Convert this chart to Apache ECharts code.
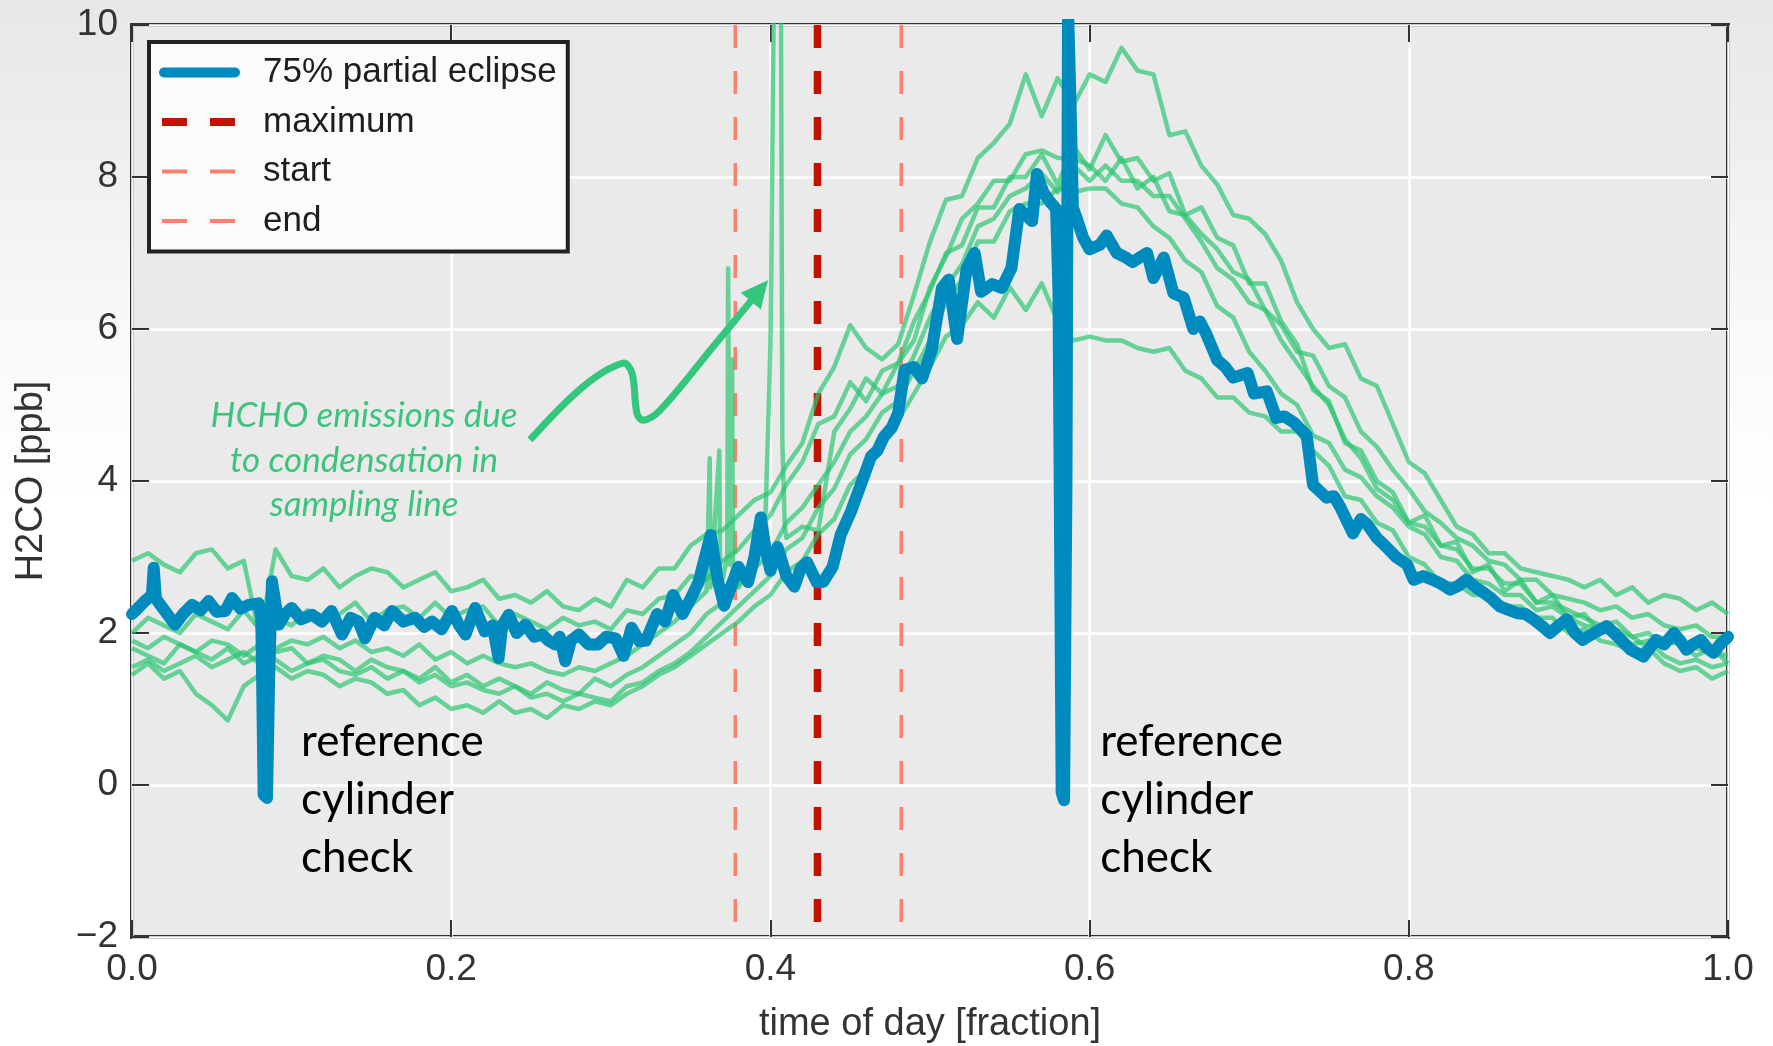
<!DOCTYPE html>
<html><head><meta charset="utf-8">
<script src="https://cdn.jsdelivr.net/npm/echarts@6/dist/echarts.min.js"></script>
<style>
html,body{margin:0;padding:0;width:1773px;height:1046px;overflow:hidden;
background:linear-gradient(to bottom,#e7e7e7 0%,#efefef 15%,#f9f9f9 32%,#ffffff 48%);}
#c{width:1773px;height:1046px;}
</style></head><body><div id="c"></div>
<script>
// ---- sampling times of the comparison days (fraction of day)
const T = [0,0.01,0.02,0.03,0.04,0.05,0.06,0.07,0.08,0.09,0.10,0.11,0.12,0.13,0.14,0.15,0.16,0.17,0.18,0.19,0.20,0.21,0.22,0.23,0.24,0.25,0.26,0.27,0.28,0.29,0.30,0.31,0.32,0.33,0.34,0.35,0.36,0.37,0.38,0.39,0.40,0.41,0.42,0.43,0.44,0.45,0.46,0.47,0.48,0.49,0.50,0.51,0.52,0.53,0.54,0.55,0.56,0.57,0.58,0.59,0.60,0.61,0.62,0.63,0.64,0.65,0.66,0.67,0.68,0.69,0.70,0.71,0.72,0.73,0.74,0.75,0.76,0.77,0.78,0.79,0.80,0.81,0.82,0.83,0.84,0.85,0.86,0.87,0.88,0.89,0.90,0.91,0.92,0.93,0.94,0.95,0.96,0.97,0.98,0.99,1.00];

// ---- comparison days (green)
const day1 = [2.95,3.05,2.9,2.8,3.05,3.1,2.85,2.95,1.95,3.1, 2.75,2.7,2.85,2.6,2.75,2.85,2.8,2.6,2.7,2.8, 2.55,2.6,2.7,2.45,2.5,2.4,2.55,2.35,2.3,2.45, 2.35,2.7,2.6,2.85,2.85,3.15,3.3,3.35,3.55,3.75, 3.85,4.2,4.5,5.15,5.5,6.05,5.75,5.6,5.8,6.45, 7.15,7.7,7.75,8.25,8.45,8.7,9.35,8.8,9.3,8.95, 9.35,9.25,9.7,9.4,9.35,8.55,8.6,8.15,7.9,7.5, 7.45,7.25,6.9,6.35,6.0,5.75,5.8,5.35,5.25,4.75, 4.25,4.1,3.75,3.4,3.3,3.05,3.05,2.85,2.8,2.75, 2.7,2.6,2.7,2.5,2.6,2.4,2.5,2.45,2.3,2.4,2.25];
const day2 = [2.0,2.2,2.1,2.0,2.25,2.15,2.05,2.3,2.05,2.2, 2.1,2.3,2.2,2.25,2.4,2.15,2.3,2.35,2.2,2.4, 2.2,2.3,2.35,2.1,2.25,2.15,2.05,2.2,2.1,2.15, 2.05,2.3,2.25,2.45,2.5,2.75,2.7,2.95,3.1,3.35, 3.55,3.95,4.25,4.75,4.85,5.3,5.05,5.45,5.55,6.1, 6.5,7.0,7.1,7.6,7.6,8.0,8.0,8.3,7.9,8.4, 8.1,8.55,8.2,8.25,7.95,8.05,7.5,7.6,7.2,7.1, 6.6,6.6,6.1,5.8,5.2,5.05,4.5,4.4,4.0,3.85, 3.45,3.55,3.15,3.2,2.8,2.9,2.55,2.7,2.4,2.5, 2.2,2.25,2.0,2.05,1.95,1.8,1.9,1.85,1.7,1.8,1.6];
const day3 = [1.8,1.7,1.6,1.85,1.75,1.65,1.8,1.6,1.7,1.75, 1.8,1.6,1.7,1.65,1.5,1.65,1.55,1.5,1.4,1.55, 1.35,1.45,1.3,1.4,1.3,1.2,1.35,1.25,1.2,1.4, 1.3,1.45,1.55,1.7,1.85,2.0,2.25,2.4,2.65,2.85, 3.05,3.45,3.65,3.95,4.25,4.65,4.85,5.15,5.25,5.65, 6.15,6.55,6.85,7.35,7.45,7.75,7.85,8.05,7.8,8.15, 7.95,8.15,7.95,7.95,7.75,7.75,7.45,7.15,6.8,6.65, 6.35,6.25,5.85,5.55,5.25,5.0,4.55,4.3,3.9,3.75, 3.45,3.4,3.15,3.1,2.85,2.85,2.65,2.65,2.4,2.4, 2.3,2.2,2.1,2.15,1.95,2.0,1.85,1.9,1.8,1.75,1.7];
const day4 = [1.55,1.65,1.5,1.6,1.7,1.55,1.65,1.75,1.6,1.65, 1.5,1.6,1.65,1.5,1.45,1.55,1.4,1.5,1.35,1.45, 1.3,1.35,1.25,1.2,1.3,1.15,1.2,1.1,1.2,1.15, 1.1,1.3,1.35,1.5,1.6,1.75,1.95,2.15,2.35,2.55, 2.75,3.1,3.25,3.65,3.9,4.35,4.55,4.9,5.05,5.45, 5.85,6.35,6.65,7.15,7.15,7.55,7.65,7.65,7.85,7.8, 7.85,7.85,7.65,7.6,7.35,7.2,6.9,6.75,6.3,6.15, 5.7,5.45,5.15,5.0,4.6,4.5,4.15,4.05,3.8,3.65, 3.4,3.3,3.0,2.95,2.7,2.65,2.5,2.5,2.3,2.35, 2.2,2.1,2.05,1.95,1.85,1.9,1.7,1.6,1.65,1.55,1.6];
const day5 = [1.45,1.6,1.4,1.5,1.2,1.05,0.85,1.3,1.45,1.55, 1.4,1.5,1.45,1.3,1.4,1.35,1.2,1.25,1.05,1.15, 1.0,1.05,0.95,1.1,0.95,1.0,0.88,1.05,1.0,1.1, 1.05,1.2,1.3,1.45,1.55,1.7,1.85,2.0,2.15,2.35, 2.5,2.8,2.95,3.3,3.5,3.95,4.15,4.55,4.8,5.15, 5.5,5.9,6.05,6.35,6.15,6.55,6.25,6.6,6.1,5.85, 5.9,5.85,5.85,5.75,5.7,5.75,5.45,5.35,5.1,5.1, 4.9,4.85,4.65,4.65,4.4,4.2,3.8,3.75,3.45,3.35, 3.0,2.9,2.65,2.65,2.5,2.5,2.35,2.35,2.2,2.2, 2.0,2.05,1.9,1.85,1.75,1.8,1.6,1.5,1.55,1.4,1.5];
const day6 = [1.9,1.8,1.95,1.85,1.75,1.9,1.85,1.7,1.85,1.8, 1.9,1.85,1.95,1.8,1.9,1.75,1.8,1.7,1.85,1.65, 1.75,1.6,1.7,1.6,1.55,1.6,1.5,1.45,1.55,1.5, 1.6,1.7,1.85,2.0,2.15,2.35,2.55,2.7,2.6,2.9, 5.8,3.25,3.4,3.35,4.65,4.95,5.35,5.15,5.55,5.85, 6.55,6.95,7.45,7.65,7.95,7.95,8.3,8.35,8.25,8.25, 8.15,7.95,8.25,7.85,8.0,7.55,7.5,7.25,7.05,6.75, 6.65,6.25,6.05,5.7,5.65,5.25,5.1,4.65,4.45,4.15, 3.9,3.6,3.45,3.25,3.15,2.95,2.9,2.7,2.7,2.5, 2.45,2.4,2.3,2.35,2.2,2.25,2.1,2.05,2.1,1.95,1.95];
// condensation spikes in day 6 (extra samples)
const day6SpikeT = [0.362,0.3625,0.368,0.3685,0.373,0.3735,0.3745,0.376,0.3765,0.397,0.399,0.4005,0.4015,0.4025,0.4065,0.4075,0.409];
const day6SpikeV = [4.3,2.6,4.4,2.75,3.0,6.8,2.9,5.6,2.8,3.6,5.0,6.6,9.0,11,11,4.5,3.4];

// ---- 75% partial eclipse day (blue)
const blueT = [0.000,0.002,0.008,0.0125,0.0136,0.015,0.0178,0.022,0.027,0.032,0.0376,0.043,0.048,0.053,0.0585,0.0627,0.068,0.073,0.0794,0.081,0.0825,0.0846,0.086,0.0877,0.092,0.096,0.100,0.106,0.1128,0.119,0.125,0.1316,0.137,0.142,0.146,0.152,0.158,0.163,0.170,0.1775,0.183,0.188,0.194,0.2005,0.205,0.209,0.215,0.221,0.226,0.2297,0.232,0.236,0.241,0.2464,0.252,0.257,0.261,0.265,0.268,0.2715,0.275,0.280,0.286,0.292,0.297,0.303,0.308,0.313,0.318,0.322,0.329,0.334,0.339,0.345,0.350,0.355,0.3626,0.367,0.371,0.376,0.380,0.386,0.390,0.394,0.397,0.400,0.4044,0.410,0.415,0.419,0.423,0.429,0.433,0.439,0.444,0.4505,0.4568,0.463,0.467,0.471,0.476,0.480,0.484,0.490,0.495,0.501,0.5075,0.5117,0.517,0.523,0.528,0.532,0.539,0.545,0.551,0.556,0.560,0.564,0.567,0.571,0.575,0.579,0.5805,0.5825,0.584,0.5855,0.5865,0.588,0.5895,0.592,0.596,0.600,0.6065,0.6107,0.617,0.622,0.627,0.632,0.636,0.640,0.6465,0.6525,0.659,0.665,0.669,0.673,0.680,0.685,0.690,0.699,0.703,0.711,0.717,0.722,0.728,0.736,0.740,0.7485,0.753,0.757,0.765,0.770,0.774,0.780,0.786,0.792,0.799,0.803,0.809,0.815,0.820,0.826,0.831,0.836,0.842,0.847,0.852,0.857,0.863,0.868,0.873,0.878,0.883,0.8885,0.894,0.899,0.904,0.909,0.916,0.924,0.931,0.939,0.947,0.951,0.955,0.960,0.966,0.970,0.974,0.978,0.983,0.987,0.991,0.995,1.000];
const blueV = [2.25,2.29,2.42,2.5,2.86,2.45,2.37,2.25,2.11,2.25,2.37,2.3,2.42,2.28,2.29,2.46,2.32,2.37,2.39,2.2,-0.13,-0.17,1.5,2.68,2.11,2.25,2.33,2.18,2.24,2.15,2.29,1.98,2.2,2.15,1.93,2.2,2.1,2.29,2.15,2.2,2.08,2.15,2.05,2.29,2.1,1.98,2.33,2.02,2.1,1.67,2.1,2.24,2.0,2.11,1.95,1.98,1.9,1.85,1.95,1.63,1.9,1.98,1.85,1.85,1.95,1.93,1.7,2.07,1.89,1.9,2.25,2.15,2.5,2.25,2.45,2.67,3.29,2.7,2.36,2.65,2.87,2.67,3.0,3.52,3.1,2.82,3.13,2.75,2.61,2.85,2.93,2.67,2.67,2.87,3.29,3.6,3.96,4.32,4.4,4.58,4.7,4.89,5.46,5.5,5.35,5.72,6.54,6.65,5.87,6.8,7.0,6.49,6.59,6.54,6.8,7.58,7.5,7.42,8.04,7.8,7.68,7.58,6.5,-0.1,-0.2,4.0,10.2,9.0,7.6,7.45,7.2,7.05,7.11,7.23,7.0,6.95,6.88,6.95,7.0,6.67,6.94,6.47,6.41,6.0,6.1,5.94,5.59,5.5,5.36,5.42,5.15,5.18,4.83,4.85,4.77,4.6,3.95,3.78,3.8,3.66,3.31,3.5,3.43,3.25,3.13,3.0,2.9,2.7,2.75,2.7,2.65,2.57,2.62,2.7,2.6,2.53,2.45,2.35,2.3,2.26,2.25,2.18,2.1,2.0,2.1,2.18,2.0,1.91,2.0,2.09,1.95,1.78,1.69,1.8,1.91,1.85,2.0,1.9,1.78,1.85,1.91,1.8,1.74,1.85,1.95];

// ---- eclipse timing
const eclipseStart = 0.378, eclipseMax = 0.4295, eclipseEnd = 0.482;
const yLimits = [-2, 10];

// ---- annotation anchors (data coordinates)
const noteHCHO = {x: 0.1454, y: 4.27, text: 'HCHO emissions due\nto condensation in\nsampling line'};
const noteCyl = [{x: 0.1059, y: -0.2}, {x: 0.6066, y: -0.2}];
const noteCylText = 'reference\ncylinder\ncheck';
const arrowPath = [[0.2494,4.54],[0.2826,5.24],[0.3076,5.55],[0.3133,5.42],[0.3164,4.89],[0.3202,4.80],[0.3308,4.93],[0.365,5.79],[0.3985,6.64]];

const zip = (t, v) => t.map((x, i) => [x, v[i]]);
const GREEN = 'rgba(40,198,112,0.68)';
const BLUE = '#008bbf';
const DARKRED = '#c01400';
const SALMON = '#fa8070';
const FONT = 'Liberation Sans';

const greenDays = [day1, day2, day3, day4, day5];
const series = [];
function vline(name, x, color, width) {
  series.push({
    name, type: 'line', data: [[x, yLimits[1]], [x, yLimits[0]]], symbol: 'none', silent: true, z: 1,
    itemStyle: {color}, lineStyle: {color, width, type: [23, 23], cap: 'butt'}
  });
}
vline('start', eclipseStart, SALMON, 3.5);
vline('end', eclipseEnd, SALMON, 3.5);
vline('maximum', eclipseMax, DARKRED, 7.5);
greenDays.forEach((d, i) => series.push({
  name: 'day' + (i + 1), type: 'line', data: zip(T, d), symbol: 'none', z: 2, silent: true,
  itemStyle: {color: GREEN}, lineStyle: {color: GREEN, width: 4.5, join: 'round'}
}));
series.push({
  name: 'day6', type: 'line', symbol: 'none', z: 2, silent: true,
  data: zip(T, day6).concat(zip(day6SpikeT, day6SpikeV)).sort((a, b) => a[0] - b[0]),
  itemStyle: {color: GREEN}, lineStyle: {color: GREEN, width: 4.5, join: 'round'}
});
series.push({
  name: '75% partial eclipse', type: 'line', data: zip(blueT, blueV), symbol: 'none', z: 3, silent: true,
  itemStyle: {color: BLUE}, lineStyle: {color: BLUE, width: 12, join: 'round', cap: 'round'}
});

const iconBlue = 'path://M0,0L0,0M99,10L99,10M5,0H76A5,5,0,0,1,76,10H5A5,5,0,0,1,5,0Z';
const iconMax = 'path://M0,0L0,0M99,10L99,10M3,1H28V9H3ZM51,1H76V9H51Z';
const iconThin = 'path://M0,0L0,0M99,10L99,10M3,3H28V7H3ZM51,3H76V7H51Z';

const tickStyle = {show: true, inside: true, length: 17, lineStyle: {color: '#333', width: 2}};
const labelStyle = {fontFamily: FONT, fontSize: 37, color: '#333'};
const noLine = {show: false, onZero: false};

const chart = echarts.init(document.getElementById('c'), null, {renderer: 'canvas'});
chart.setOption({
  animation: false,
  backgroundColor: 'transparent',
  grid: {left: 132, right: 45, top: 25, bottom: 109, show: true, backgroundColor: '#eaeaea',
         borderColor: '#333', borderWidth: 4, containLabel: false, outerBoundsMode: 'none'},
  legend: {
    orient: 'vertical', left: 149, top: 42, padding: [13, 11, 13, 10], itemGap: 14.5,
    itemWidth: 99, itemHeight: 10, symbolKeepAspect: false, selectedMode: false,
    backgroundColor: '#fbfbfb', borderColor: '#222', borderWidth: 4,
    itemStyle: {borderWidth: 0},
    textStyle: {fontFamily: FONT, fontSize: 35, color: '#1e1e1e'},
    data: [{name: '75% partial eclipse', icon: iconBlue}, {name: 'maximum', icon: iconMax},
           {name: 'start', icon: iconThin}, {name: 'end', icon: iconThin}]
  },
  xAxis: [
    {type: 'value', min: 0, max: 1, interval: 0.2, position: 'bottom',
     name: 'time of day [fraction]', nameLocation: 'middle', nameGap: 69,
     nameTextStyle: {fontFamily: FONT, fontSize: 38, color: '#333'},
     axisLine: noLine, axisTick: tickStyle,
     axisLabel: Object.assign({margin: 14, formatter: v => v.toFixed(1)}, labelStyle),
     splitLine: {show: true, lineStyle: {color: '#ffffff', width: 2.5}}},
    {type: 'value', min: 0, max: 1, interval: 0.2, position: 'top',
     axisLine: noLine, axisTick: tickStyle, axisLabel: {show: false}, splitLine: {show: false}}
  ],
  yAxis: [
    {type: 'value', min: yLimits[0], max: yLimits[1], interval: 2, position: 'left',
     name: 'H2CO [ppb]', nameLocation: 'middle', nameGap: 81,
     nameTextStyle: {fontFamily: FONT, fontSize: 38, color: '#333'},
     axisLine: noLine, axisTick: tickStyle,
     axisLabel: Object.assign({margin: 14, formatter: v => v < 0 ? '\u2212' + Math.abs(v) : String(v)}, labelStyle),
     splitLine: {show: true, lineStyle: {color: '#ffffff', width: 2.5}}},
    {type: 'value', min: yLimits[0], max: yLimits[1], interval: 2, position: 'right',
     axisLine: noLine, axisTick: tickStyle, axisLabel: {show: false}, splitLine: {show: false}}
  ],
  series
});

// ---- annotations anchored to data coordinates
const px = p => chart.convertToPixel({xAxisIndex: 0, yAxisIndex: 0}, p);
const pts = arrowPath.map(px);
const tip = pts[pts.length - 1], prev = pts[pts.length - 2];
let ux = tip[0] - prev[0], uy = tip[1] - prev[1];
const len = Math.hypot(ux, uy); ux /= len; uy /= len;
const HL = 27, HW = 13;
const base = [tip[0] - ux * HL, tip[1] - uy * HL];
const shaft = pts.slice(0, -1).concat([[base[0] + ux * 2, base[1] + uy * 2]]);
const ARROW = '#33c67c';
const hP = px([noteHCHO.x, noteHCHO.y]);
const graphics = [
  {type: 'text', z: 100, silent: true, x: hP[0], y: hP[1],
   style: {text: noteHCHO.text, fill: '#3cc47e', font: 'italic 35px Lato', align: 'center', verticalAlign: 'middle', lineHeight: 44.5}},
  {type: 'polyline', z: 100, silent: true, shape: {points: shaft, smooth: 0.35},
   style: {stroke: ARROW, lineWidth: 7, fill: null, lineCap: 'butt', lineJoin: 'round'}},
  {type: 'polygon', z: 100, silent: true,
   shape: {points: [tip, [base[0] - uy * HW, base[1] + ux * HW], [base[0] + uy * HW, base[1] - ux * HW]]},
   style: {fill: ARROW}}
];
noteCyl.forEach(n => {
  const p = px([n.x, n.y]);
  graphics.push({type: 'text', z: 100, silent: true, x: p[0], y: p[1],
    style: {text: noteCylText, fill: '#000', font: '44px Lato', align: 'left', verticalAlign: 'middle', lineHeight: 58}});
});
chart.setOption({graphic: graphics});
</script></body></html>
